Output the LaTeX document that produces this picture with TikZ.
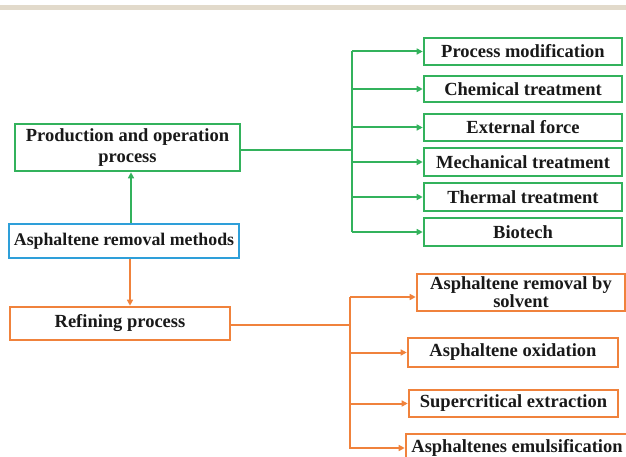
\documentclass[tikz,border=0pt]{standalone}
\usepackage{fontspec}
\setmainfont{Liberation Serif}
\usetikzlibrary{arrows.meta}
\definecolor{gbox}{HTML}{33B25C}
\definecolor{obox}{HTML}{F0823C}
\definecolor{bbox}{HTML}{2E9FD9}
\definecolor{band}{HTML}{E2DACB}
\begin{document}
\begin{tikzpicture}[x=1pt,y=-1pt,
  box/.style={draw,line width=2.6pt,fill=white,inner sep=1pt,font=\bfseries\fontsize{18.5}{21}\selectfont,align=center,text=black!90},
  gb/.style={box,draw=gbox},
  ob/.style={box,draw=obox},
  conn/.style={line width=2pt},
  arr/.style={conn,-{Triangle[length=6pt,width=6pt]}}]
\useasboundingbox (0,0) rectangle (626,457);
\fill[band] (0,5) rectangle (626,10);
% left column
\node[gb,minimum width=225pt,minimum height=47pt] (prod) at (127.5,147.5) {Production and operation\\process};
\node[box,draw=bbox,minimum width=230pt,minimum height=34pt,font=\bfseries\fontsize{17.8}{20}\selectfont] (meth) at (124,241) {Asphaltene removal methods};
\node[ob,minimum width=220pt,minimum height=33pt] (ref) at (120,323.5) {Refining process};
% green boxes
\node[gb,minimum width=198pt,minimum height=27pt] (g1) at (523,51.5) {Process modification};
\node[gb,minimum width=198pt,minimum height=26pt] (g2) at (523,89) {Chemical treatment};
\node[gb,minimum width=198pt,minimum height=27pt] (g3) at (523,127.5) {External force};
\node[gb,minimum width=198pt,minimum height=28pt] (g4) at (523,162) {Mechanical treatment};
\node[gb,minimum width=198pt,minimum height=28pt] (g5) at (523,197) {Thermal treatment};
\node[gb,minimum width=198pt,minimum height=28pt] (g6) at (523,232) {Biotech};
% orange boxes
\node[ob,minimum width=208pt,minimum height=37pt,font=\bfseries\fontsize{18.5}{18}\selectfont] (o1) at (521,292.5) {Asphaltene removal by\\solvent};
\node[ob,minimum width=210pt,minimum height=29pt] (o2) at (513,352.5) {Asphaltene oxidation};
\node[ob,minimum width=209pt,minimum height=27pt] (o3) at (513.5,403.5) {Supercritical extraction};
\node[ob,minimum width=222pt,minimum height=28pt,inner sep=0pt] (o4) at (517,448) {Asphaltenes emulsification};
% vertical arrows
\coordinate (ga) at (131,0);
\coordinate (oa) at (130,0);
\draw[arr,gbox] (meth.north -| ga) -- (prod.south -| ga);
\draw[arr,obox] (meth.south -| oa) -- (ref.north -| oa);
% green tree
\coordinate (gt) at (352,150);
\coordinate (gtop) at (352,51.5);
\coordinate (gbot) at (352,232);
\draw[conn,gbox] (prod.east |- gt) -- (gt);
\draw[conn,gbox] (gtop) -- (gbot);
\foreach \n in {g1,g2,g3,g4,g5,g6}
  \draw[arr,gbox] (gt |- \n.west) -- (\n.west);
% orange tree
\coordinate (ot) at (350,325);
\coordinate (otop) at (350,297);
\coordinate (obot) at (350,449);
\draw[conn,obox] (ref.east |- ot) -- (ot);
\draw[conn,obox] (otop) -- (obot);
\draw[arr,obox] (otop) -- (o1.west |- otop);
\foreach \n in {o2,o3,o4}
  \draw[arr,obox] (ot |- \n.west) -- (\n.west);
\end{tikzpicture}
\end{document}
